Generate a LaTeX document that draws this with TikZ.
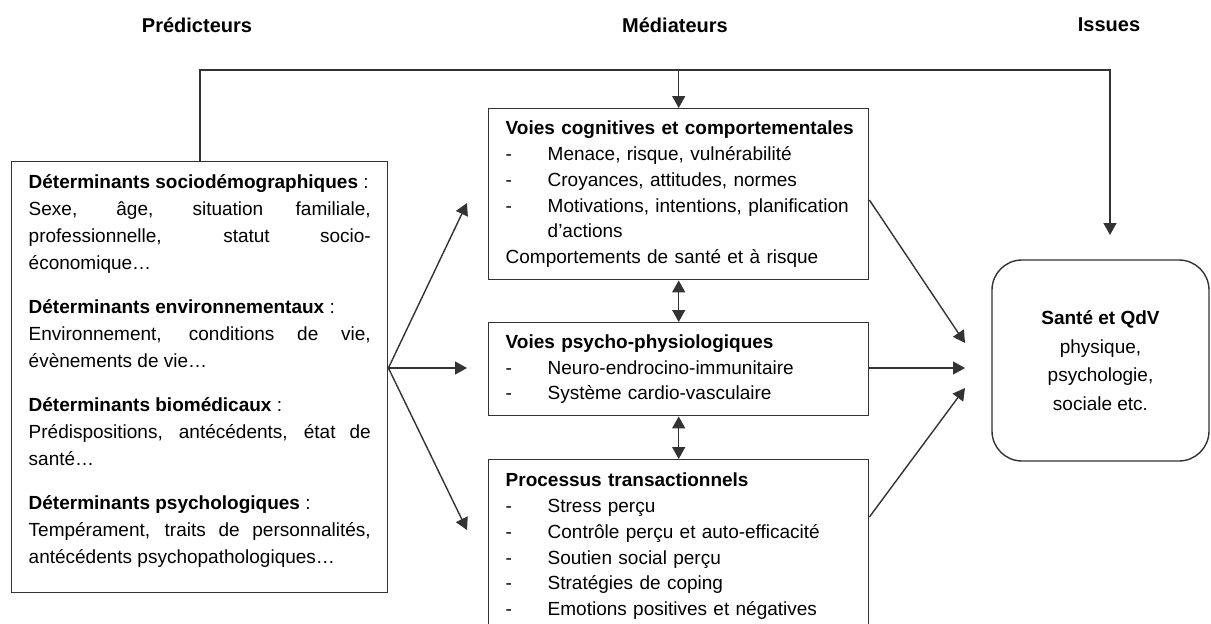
\documentclass[tikz,border=0pt]{standalone}
\usepackage{fontspec}
\setmainfont{Liberation Sans}
\usetikzlibrary{arrows.meta}

\tikzset{
  ln/.style={draw=black!80, line width=1.4pt},
  arr/.style={ln, -{Triangle[width=13pt,length=12pt]}},
  darr/.style={ln, {Triangle[width=13pt,length=12pt]}-{Triangle[width=13pt,length=12pt]}},
  hdr/.style={font=\fontsize{20pt}{24pt}\selectfont\bfseries},
  midbox/.style={ln, anchor=north west, text width=346pt, inner xsep=17pt, inner ysep=0pt,
    align=left, font=\fontsize{19pt}{25.8pt}\selectfont},
}
\newcommand\tiret[1]{\makebox[42pt][l]{-}#1}

\begin{document}
\begin{tikzpicture}[x=1pt, y=-1pt]
  \useasboundingbox (0,0) rectangle (1211,624);
  \clip (0,0) rectangle (1211,624);
  \begin{scope}
    \node[hdr] (hpred) at (197,25) {Prédicteurs};
    \node[hdr] (hmed) at (675,25) {Médiateurs};
    \node[hdr] (hiss) at (1109,25) {Issues};

    \node[ln, anchor=north west, text width=342pt, inner xsep=17pt, inner ysep=0pt,
      minimum height=431pt, align=justify, font=\fontsize{19pt}{27pt}\selectfont]
      (pred) at (11,161) {
      \textbf{Déterminants sociodémographiques} :\\
      Sexe, âge, situation familiale,\linebreak
      professionnelle, statut socio-\linebreak
      économique…\\[17pt]
      \textbf{Déterminants environnementaux} :\\
      Environnement, conditions de vie,\linebreak
      évènements de vie…\\[17pt]
      \textbf{Déterminants biomédicaux} :\\
      Prédispositions, antécédents, état de\linebreak
      santé…\\[17pt]
      \textbf{Déterminants psychologiques} :\\
      Tempérament, traits de personnalités,\linebreak
      antécédents psychopathologiques…\\[-10pt]\mbox{}};

    \node[midbox, minimum height=171pt] (cogn) at (488,108) {
      \mbox{\textbf{Voies cognitives et comportementales}}\\
      \tiret{Menace, risque, vulnérabilité}\\
      \tiret{Croyances, attitudes, normes}\\
      \tiret{Motivations, intentions, planification}\\
      \hspace*{42pt}d’actions\\
      Comportements de santé et à risque};

    \node[midbox, minimum height=93pt] (physio) at (488,322) {
      \textbf{Voies psycho-physiologiques}\\
      \tiret{Neuro-endrocino-immunitaire}\\
      \tiret{Système cardio-vasculaire}};

    \node[midbox, minimum height=173pt] (trans) at (488,459) {
      \textbf{Processus transactionnels}\\
      \tiret{Stress perçu}\\
      \tiret{Contrôle perçu et auto-efficacité}\\
      \tiret{Soutien social perçu}\\
      \tiret{Stratégies de coping}\\
      \tiret{Emotions positives et négatives}};

    \node[ln, rounded corners=30pt, minimum width=217pt, minimum height=201pt,
      align=center, font=\fontsize{19pt}{28.5pt}\selectfont] (sante) at (1100.5,360.5) {
      \textbf{Santé et QdV}\\
      physique,\\
      psychologie,\\
      sociale etc.};

    \coordinate (fan) at (pred.east |- 0,368);
    \coordinate (m1) at (467,203);
    \coordinate (m2) at (467,368);
    \coordinate (m3) at (467,530);
    \draw[arr] (fan) -- (m1);
    \draw[arr] (fan) -- (m2);
    \draw[arr] (fan) -- (m3);

    \coordinate (hautg) at (200,70);
    \coordinate (hautd) at (1110,70);
    \coordinate (issue) at (1110,235);
    \draw[arr] (pred.north -| hautg) -- (hautg) -- (hautd) -- (issue);
    \draw[arr] (cogn.north |- hautg) -- (cogn.north);

    \draw[darr] (cogn.south) -- (physio.north);
    \draw[darr] (physio.south) -- (trans.north);

    \coordinate (s1) at (965,343);
    \coordinate (s2) at (965,368);
    \coordinate (s3) at (965,388);
    \draw[arr] (cogn.east |- 0,200) -- (s1);
    \draw[arr] (physio.east |- 0,368) -- (s2);
    \draw[arr] (trans.east |- 0,517) -- (s3);
  \end{scope}
\end{tikzpicture}
\end{document}
